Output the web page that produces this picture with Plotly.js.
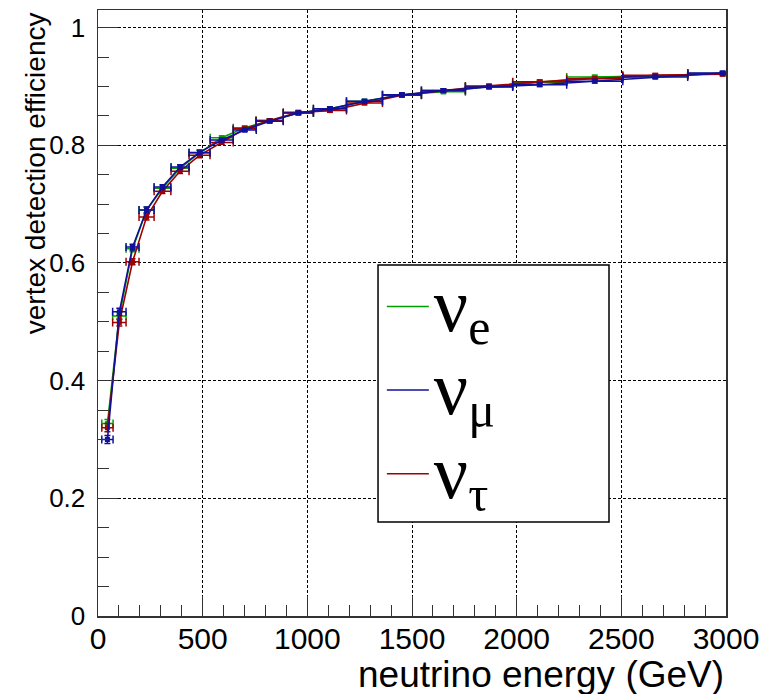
<!DOCTYPE html>
<html><head><meta charset="utf-8">
<script src="https://cdn.plot.ly/plotly-3.0.1.min.js"></script>
<style>html,body{margin:0;padding:0;background:#fff}#chart{width:763px;height:694px}</style>
</head><body><div id="chart"></div>
<script>
// Bin centres and half-widths (GeV)
const energy    = [45, 102, 165, 232, 308, 392, 485, 591, 701, 820, 957, 1108, 1273, 1452, 1650, 1868, 2110, 2373, 2662, 2984];
const energyErr = [27, 32, 31, 36, 40, 43, 50, 55, 55, 65, 72, 79, 86, 93, 105, 113, 129, 134, 155, 166];
// Vertex detection efficiency per flavour
const effNuE   = [0.327, 0.510, 0.624, 0.690, 0.727, 0.761, 0.787, 0.813, 0.830, 0.842, 0.855, 0.862, 0.875, 0.886, 0.891, 0.900, 0.907, 0.916, 0.918, 0.922];
const effNuMu  = [0.300, 0.517, 0.627, 0.690, 0.729, 0.763, 0.788, 0.809, 0.826, 0.841, 0.855, 0.862, 0.875, 0.886, 0.893, 0.899, 0.903, 0.909, 0.916, 0.923];
const effNuTau = [0.320, 0.499, 0.602, 0.678, 0.722, 0.756, 0.783, 0.805, 0.828, 0.842, 0.856, 0.859, 0.872, 0.885, 0.893, 0.901, 0.908, 0.913, 0.919, 0.921];
const effErr   = [0.007, 0.006, 0.005, 0.005, 0.004, 0.004, 0.004, 0.003, 0.003, 0.003, 0.003, 0.003, 0.003, 0.003, 0.003, 0.003, 0.003, 0.003, 0.003, 0.003];
const seriesSymbol = 'ν';
const seriesSubs = ['e', 'μ', 'τ'];
const xTickVals = [0, 500, 1000, 1500, 2000, 2500, 3000];
const yTickVals = [0, 0.2, 0.4, 0.6, 0.8, 1];
const yTickText = ['0', '0.2', '0.4', '0.6', '0.8', '1'];
const xTitle = 'neutrino energy (GeV)';
const yTitle = 'vertex detection efficiency';

const colE = '#00a000', colMu = '#10109c', colTau = '#a00000';

function legendName(sub) {
  return '<span style="font-size:76px">' + seriesSymbol + '</span><sub><span style="font-size:50px">' + sub + '</span></sub>';
}
function dataTrace(y, col) {
  return {
    x: energy, y: y, type: 'scatter', mode: 'lines+markers', showlegend: false,
    line: {color: col, width: 1.6},
    marker: {color: col, symbol: 'square', size: 5},
    error_x: {type: 'data', array: energyErr, visible: true, color: col, thickness: 1.5, width: 4},
    error_y: {type: 'data', array: effErr, visible: true, color: col, thickness: 1.5, width: 3},
    hoverinfo: 'x+y'
  };
}
function legendTrace(name, col) {
  return {x: [null], y: [null], type: 'scatter', mode: 'lines', name: name,
          line: {color: col, width: 1.5}, showlegend: true, hoverinfo: 'skip'};
}

const traces = [
  dataTrace(effNuE, colE),
  dataTrace(effNuTau, colTau),
  dataTrace(effNuMu, colMu),
  legendTrace(legendName(seriesSubs[0]), colE),
  legendTrace(legendName(seriesSubs[1]), colMu),
  legendTrace(legendName(seriesSubs[2]), colTau)
];

const axisCommon = {
  showline: true, mirror: true, linecolor: '#333', linewidth: 1.5,
  ticks: 'inside', tickcolor: '#333', tickwidth: 1,
  showgrid: true, gridcolor: '#000', gridwidth: 1, griddash: '3px,2px',
  zeroline: false, color: '#000'
};

const layout = {
  width: 763, height: 694,
  margin: {l: 98, r: 37, t: 10, b: 78},
  paper_bgcolor: '#fff', plot_bgcolor: '#fff',
  font: {family: 'Liberation Sans, Arial, sans-serif', color: '#000'},
  xaxis: Object.assign({}, axisCommon, {
    range: [0, 3000], tickvals: xTickVals, ticklen: 20,
    tickfont: {size: 30, family: 'Liberation Sans, Arial, sans-serif'},
    ticklabelstandoff: -5,
    minor: {ticks: 'inside', dtick: 100, ticklen: 11, tickcolor: '#333', showgrid: false}
  }),
  yaxis: Object.assign({}, axisCommon, {
    range: [0, 1.03], tickvals: yTickVals, ticktext: yTickText, ticklen: 20,
    tickfont: {size: 26, family: 'Liberation Sans, Arial, sans-serif'},
    ticklabelstandoff: 6,
    minor: {ticks: 'inside', dtick: 0.05, ticklen: 11, tickcolor: '#333', showgrid: false}
  }),
  showlegend: true,
  legend: {
    x: 0.452, y: 0.588, xanchor: 'left', yanchor: 'top',
    bgcolor: 'rgba(0,0,0,0)', borderwidth: 0,
    font: {family: 'Liberation Serif, DejaVu Serif, serif', size: 62, color: '#000'},
    itemwidth: 42, traceorder: 'normal'
  },
  shapes: [{
    type: 'rect', xref: 'paper', yref: 'paper',
    x0: 0.4459, x1: 0.8137, y0: 0.1551, y1: 0.5792,
    fillcolor: '#fff', line: {color: '#000', width: 1.5}, layer: 'above'
  }],
  annotations: [
    {text: xTitle, xref: 'paper', yref: 'paper', x: 1.0, y: -0.096, xanchor: 'right', yanchor: 'middle',
     showarrow: false, font: {size: 37, family: 'Liberation Sans, Arial, sans-serif', color: '#000'}},
    {text: yTitle, xref: 'paper', yref: 'paper', x: -0.1, y: 1.0, xanchor: 'center', yanchor: 'top',
     textangle: -90, showarrow: false, font: {size: 28, family: 'Liberation Sans, Arial, sans-serif', color: '#000'}}
  ]
};

Plotly.newPlot('chart', traces, layout, {displayModeBar: false, staticPlot: true});
</script>
</body></html>
